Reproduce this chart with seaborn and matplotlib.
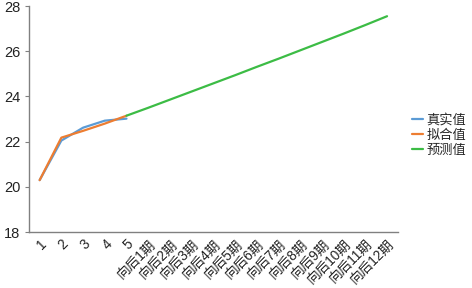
import matplotlib
matplotlib.use('Agg')

import pandas as pd
import matplotlib.pyplot as plt
import seaborn as sns

# categorias do eixo x
categorias = ['1', '2', '3', '4', '5'] + ['向后%d期' % i for i in range(1, 13)]

# séries
real_x = ['1', '2', '3', '4', '5']
real_y = [20.30, 22.05, 22.62, 22.93, 23.02]

ajuste_x = ['1', '2', '3', '4', '5']
ajuste_y = [20.30, 22.18, 22.48, 22.80, 23.15]

prev_x = ['5'] + ['向后%d期' % i for i in range(1, 13)]
prev_y = [23.15, 23.50, 23.86, 24.22, 24.58, 24.94, 25.31,
          25.67, 26.04, 26.41, 26.78, 27.16, 27.55]

nomes = ['真实值', '拟合值', '预测值']
cores = ['#5B9BD5', '#ED7D31', '#3CBC45']

sns.set_style('white')
plt.rcParams['font.family'] = ['Liberation Sans', 'Noto Sans CJK SC', 'DejaVu Sans']

df = pd.concat([
    pd.DataFrame({'x': real_x, 'y': real_y, 'serie': nomes[0]}),
    pd.DataFrame({'x': ajuste_x, 'y': ajuste_y, 'serie': nomes[1]}),
    pd.DataFrame({'x': prev_x, 'y': prev_y, 'serie': nomes[2]}),
], ignore_index=True)
df['pos'] = df['x'].map({c: i for i, c in enumerate(categorias)})

fig = plt.figure(figsize=(4.72, 2.88), dpi=100)
ax = fig.add_axes([0.061, 0.194, 0.782, 0.785])

sns.lineplot(data=df, x='pos', y='y', hue='serie', palette=cores,
             hue_order=nomes, sort=False, linewidth=1.6, ax=ax)

ax.set_xlim(-0.5, len(categorias) - 0.5)
ax.set_ylim(18, 28)
ax.set_yticks([18, 20, 22, 24, 26, 28])
ax.set_xticks(range(len(categorias)))
ax.set_xticklabels(categorias, rotation=45, ha='right', rotation_mode='anchor')
ax.set_xlabel('')
ax.set_ylabel('')

for s in ['top', 'right']:
    ax.spines[s].set_visible(False)
for s in ['left', 'bottom']:
    ax.spines[s].set_color('#808080')
    ax.spines[s].set_linewidth(1.0)

ax.tick_params(axis='y', which='both', left=True, length=3, color='#808080',
               labelsize=10.5, pad=3, labelcolor='#222222')
ax.tick_params(axis='x', which='both', bottom=False, labelsize=9.8, pad=0,
               labelcolor='#222222')
for lab in ax.get_xticklabels():
    lab.set_x(lab.get_position()[0])

leg = ax.legend(loc='center left', bbox_to_anchor=(0.862, 0.53),
                bbox_transform=fig.transFigure, frameon=False,
                fontsize=9.5, handlelength=0.8, handletextpad=0.3,
                labelspacing=0.2, borderaxespad=0)

fig.savefig('out.png', dpi=100)
